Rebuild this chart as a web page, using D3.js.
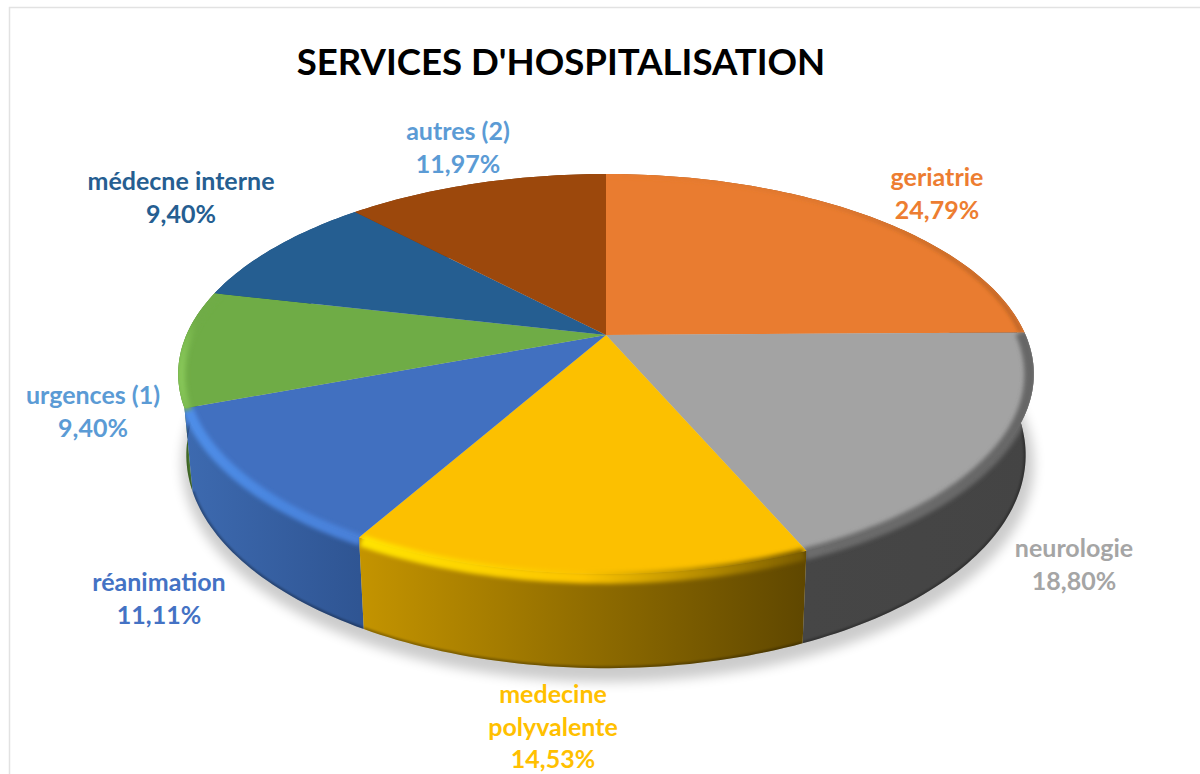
<!DOCTYPE html>
<html>
<head>
<meta charset="utf-8">
<script src="https://cdn.jsdelivr.net/npm/d3@7"></script>
<style>
  html, body { margin: 0; background: #fff; }
</style>
</head>
<body>
<div id="chart"></div>
<script>
// Data
const categories = ["geriatrie", "neurologie", "medecine polyvalente", "réanimation", "urgences (1)", "médecne interne", "autres (2)"];
const values = [24.79, 18.80, 14.53, 11.11, 9.40, 9.40, 11.97];

// Colours
const topColors = ["#E97C30", "#A3A3A3", "#FCC000", "#4170C0", "#6FAC46", "#255E91", "#9C480C"];
const sideColors = [["#a4561f", "#843c0c"], ["#464646", "#444444"], ["#c49400", "#5f4700"], ["#3d6ab0", "#2f5593"], ["#558a33", "#4a7a2d"], ["#1c4a73", "#1c4a73"], ["#7a380a", "#7a380a"]];
const rimColors = [["#E97C30", "#d0702c", "#8a4a1a"], ["#6c6c6c", "#6a6a6a", "#666666"], ["#ffe400", "#fcc400", "#7a5c00"], ["#4f8ee8", "#4a86e0", "#4a80d8"], ["#8ccc5c", "#6FAC46", "#6FAC46"], ["#255E91", "#255E91", "#255E91"], ["#9C480C", "#9C480C", "#9C480C"]];
const rimWidths = [2, 12, 12, 11, 8, 0, 0];
const labelColors = ["#ED7D31", "#A5A5A5", "#FFC000", "#4472C4", "#5B9BD5", "#255E91", "#5B9BD5"];
const labelX = [937, 1074, 553, 159, 93, 181, 458];
const labelY = [186, 557, 703, 591, 404, 190, 140];

const title = "SERVICES D'HOSPITALISATION";
const lineHeight = 32.5;

const width = 1200;
const height = 774;

const svg = d3.select("#chart")
    .append("svg")
    .attr("width", width)
    .attr("height", height)
    .style("display", "block")
    .attr("font-family", "Lato, sans-serif");

const defs = svg.append("defs");

// Chart frame
svg.append("path")
    .attr("d", `M9.5,${height}V7.5H${width}`)
    .attr("fill", "none")
    .attr("stroke", "#e2e2e2")
    .attr("stroke-width", 1.5);

// Perspective view of the disc, angle in radians clockwise from 12 o'clock
const cx = 606;
const persp = -0.195;
const project = (R, A, y0) => (a, r = 1) => {
    const u = r * Math.sin(a);
    const v = -r * Math.cos(a);
    const w = 1 + persp * v;
    return [cx + R * u / w, y0 + A * v / w];
};
const topPt = project(419.6, 192.4, 335);
const botPt = project(411.6, 205, 413.5);

// Bevel runs a little inside at the sides and a little lower at the front
const rimPt = a => {
    const p = topPt(a, 0.992);
    return [p[0], p[1] + 6 * Math.max(0, -Math.cos(a))];
};

const line = d3.line();
const arcAngles = (a0, a1) => {
    const n = Math.max(2, Math.ceil((a1 - a0) / 0.02));
    return d3.range(n + 1).map(i => a0 + (a1 - a0) * i / n);
};

const pie = d3.pie().sort(null).value(d => d);
const slices = pie(values).map((d, i) => {
    const angles = arcAngles(d.startAngle, d.endAngle);
    const rim = angles.map(a => topPt(a));
    const bottom = angles.map(a => botPt(a));
    const center = topPt(0, 0);
    return {
        i,
        angles,
        rim,
        bottom,
        topPath: line([center, ...rim]) + "Z",
        sidePath: line([...rim, ...bottom.slice().reverse()]) + "Z",
        x0: d3.min(rim, p => p[0]),
        x1: d3.max(rim, p => p[0])
    };
});

// Blurs
const blur = (id, dev) => defs.append("filter")
    .attr("id", id)
    .attr("filterUnits", "userSpaceOnUse")
    .attr("x", 0).attr("y", 0).attr("width", width).attr("height", height)
    .append("feGaussianBlur").attr("stdDeviation", dev);
blur("blurShadow", 6);
blur("blurRim", 2.2);
blur("blurEdge", 0.8);

// Gradients, clip for each slice
const gradient = (id, s, colors) => {
    const g = defs.append("linearGradient")
        .attr("id", id)
        .attr("gradientUnits", "userSpaceOnUse")
        .attr("x1", s.x0).attr("x2", s.x1)
        .attr("y1", 0).attr("y2", 0);
    colors.forEach((c, k) => {
        g.append("stop").attr("offset", k / (colors.length - 1)).attr("stop-color", c);
    });
};
slices.forEach(s => {
    gradient(`side${s.i}`, s, sideColors[s.i]);
    gradient(`rim${s.i}`, s, rimColors[s.i]);
    const clip = defs.append("clipPath").attr("id", `clip${s.i}`);
    clip.append("path").attr("d", s.topPath);
    clip.append("path").attr("d", s.sidePath);
});

// Shadow under the disc
svg.append("ellipse")
    .attr("cx", cx + 2)
    .attr("cy", 464)
    .attr("rx", 426)
    .attr("ry", 218)
    .attr("fill", "#000")
    .attr("opacity", 0.2)
    .attr("filter", "url(#blurShadow)");

// Side walls, back ones first
const drawOrder = slices.slice().sort((a, b) => d3.max(a.bottom, p => p[1]) - d3.max(b.bottom, p => p[1]));
svg.append("g")
    .selectAll("path")
    .data(drawOrder)
    .enter().append("path")
    .attr("d", d => d.sidePath)
    .attr("fill", d => `url(#side${d.i})`);

// Dark line along the foot of the wall
svg.append("g")
    .selectAll("path")
    .data(slices)
    .enter().append("g")
    .attr("clip-path", d => `url(#clip${d.i})`)
    .append("path")
    .attr("d", d => line(d.bottom))
    .attr("fill", "none")
    .attr("stroke", "#000")
    .attr("stroke-opacity", 0.3)
    .attr("stroke-width", 4)
    .attr("filter", "url(#blurEdge)");

// Top faces
svg.append("g")
    .selectAll("path")
    .data(slices)
    .enter().append("path")
    .attr("d", d => d.topPath)
    .attr("fill", d => topColors[d.i]);

// Bevel along the rim
svg.append("g")
    .selectAll("g")
    .data(slices.filter(s => rimWidths[s.i] > 0))
    .enter().append("g")
    .attr("clip-path", d => `url(#clip${d.i})`)
    .append("path")
    .attr("d", d => line(d.angles.map(rimPt)))
    .attr("fill", "none")
    .attr("stroke", d => `url(#rim${d.i})`)
    .attr("stroke-width", d => rimWidths[d.i])
    .attr("filter", "url(#blurRim)");

// Title
svg.append("text")
    .attr("x", 561)
    .attr("y", 75)
    .attr("text-anchor", "middle")
    .attr("font-size", 36.6)
    .attr("font-weight", 700)
    .attr("fill", "#000")
    .text(title);

// Labels
const fmt = d3.format(".2f");
const labelLines = (name, v) => {
    const words = name === "medecine polyvalente" ? name.split(" ") : [name];
    return [...words, fmt(v).replace(".", ",") + "%"];
};
const label = svg.append("g")
    .selectAll("text")
    .data(categories)
    .enter().append("text")
    .attr("text-anchor", "middle")
    .attr("font-size", 25)
    .attr("font-weight", 700)
    .attr("fill", (d, i) => labelColors[i]);

label.each(function(d, i) {
    d3.select(this).selectAll("tspan")
        .data(labelLines(d, values[i]))
        .enter().append("tspan")
        .attr("x", labelX[i])
        .attr("y", (t, k) => labelY[i] + k * lineHeight)
        .text(t => t);
});
</script>
</body>
</html>
